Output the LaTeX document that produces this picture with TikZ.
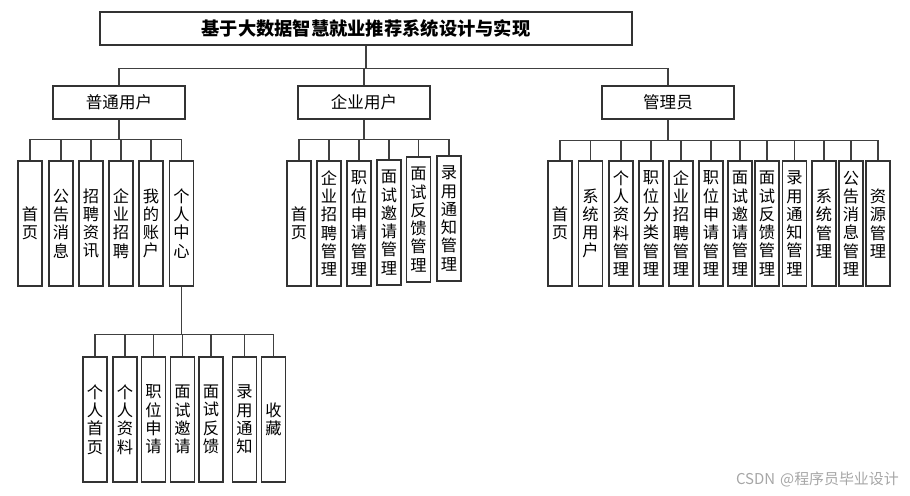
\documentclass[tikz,border=0pt]{standalone}
\usepackage{fontspec}
\setmainfont{Noto Sans CJK SC}
\tikzset{
  titlebox/.style={draw=black!80,line width=0.8pt,minimum width=10.64cm,minimum height=0.66cm,
    inner sep=0pt,font=\fontsize{10.4pt}{12pt}\selectfont\bfseries},
  rolebox/.style={draw=black!80,line width=0.8pt,minimum width=2.64cm,minimum height=0.66cm,
    inner sep=0pt,font=\fontsize{9.4pt}{11pt}\selectfont},
  leafbox/.style={draw=black!80,line width=0.8pt,minimum width=0.48cm,minimum height=2.5cm,
    inner sep=0pt,align=center,font=\fontsize{9.25pt}{10.4pt}\selectfont},
  conn/.style={draw=black!75,line width=0.6pt}
}
\begin{document}
\begin{tikzpicture}[x=0.02cm,y=-0.02cm]
  \useasboundingbox (0,0) rectangle (910,495);
  % title and the three user roles
  \node[titlebox] (title) at (366,28.5) {基于大数据智慧就业推荐系统设计与实现};
  \node[rolebox] (ptuser) at (119,102.5) {普通用户};
  \node[rolebox] (qyuser) at (364,102.5) {企业用户};
  \node[rolebox] (admin) at (668,102.5) {管理员};
  \foreach \r in {ptuser,qyuser,admin}
    \draw[conn] (title.south) -- ++(0,23) -| (\r.north);

  % modules of the ordinary user
  \foreach \x/\t [count=\i] in {30/首\\页, 61/公\\告\\消\\息, 91/招\\聘\\资\\讯,
      121/企\\业\\招\\聘, 151/我\\的\\账\\户, 181.5/个\\人\\中\\心}
    \node[leafbox] (pt\i) at (\x,223.5) {\t};
  \foreach \i in {1,...,6}
    \draw[conn] (ptuser.south) -- ++(0,20) -| (pt\i.north);

  % sub modules of the personal centre
  \foreach \x/\t [count=\i] in {95/个\\人\\首\\页, 125/个\\人\\资\\料, 153.5/职\\位\\申\\请,
      182.5/面\\试\\邀\\请, 211/面\\试\\反\\馈, 244.5/录\\用\\通\\知, 273.5/收\\藏}
    \node[leafbox] (gr\i) at (\x,419.5) {\t};
  \foreach \i in {1,...,7}
    \draw[conn] (pt6.south) -- ++(0,48) -| (gr\i.north);

  % modules of the company user
  \foreach \x/\y/\t [count=\i] in {299/223.5/首\\页, 329/223.5/企\\业\\招\\聘\\管\\理,
      359/223.5/职\\位\\申\\请\\管\\理, 389/222.5/面\\试\\邀\\请\\管\\理,
      418.5/219.5/面\\试\\反\\馈\\管\\理, 449/218.5/录\\用\\通\\知\\管\\理}
    \node[leafbox] (qy\i) at (\x,\y) {\t};
  \foreach \i in {1,...,6}
    \draw[conn] (qyuser.south) -- ++(0,20) -| (qy\i.north);

  % modules of the administrator
  \foreach \x/\t [count=\i] in {560/首\\页, 590.5/系\\统\\用\\户, 621/个\\人\\资\\料\\管\\理,
      651/职\\位\\分\\类\\管\\理, 681/企\\业\\招\\聘\\管\\理, 711/职\\位\\申\\请\\管\\理,
      740/面\\试\\邀\\请\\管\\理, 767/面\\试\\反\\馈\\管\\理, 794.5/录\\用\\通\\知\\管\\理,
      824/系\\统\\管\\理, 851/公\\告\\消\\息\\管\\理, 878/资\\源\\管\\理}
    \node[leafbox] (ad\i) at (\x,223.5) {\t};
  \foreach \i in {1,...,12}
    \draw[conn] (admin.south) -- ++(0,21) -| (ad\i.north);

  \node[anchor=east,text=black!35,font=\fontsize{8.5pt}{10pt}\selectfont] (mark) at (905,479)
    {CSDN\,\,@程序员毕业设计};
\end{tikzpicture}
\end{document}
